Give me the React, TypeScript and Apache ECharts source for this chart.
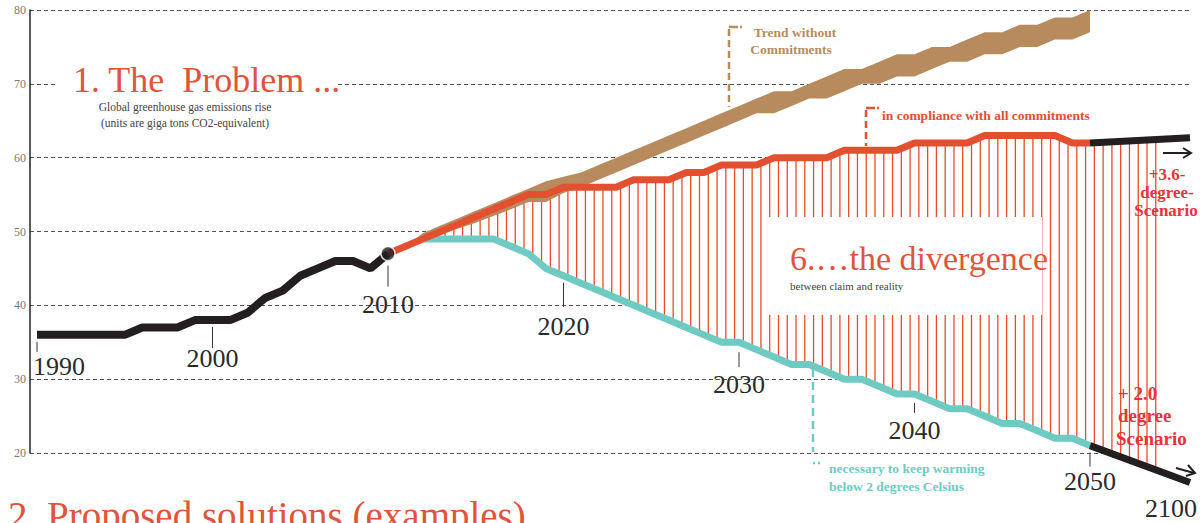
import React, { useEffect, useRef } from "react";
import * as echarts from "echarts";

const FONT = '"Liberation Serif", "Times New Roman", serif';

// ---------------- data (giga tons CO2-equivalent) ----------------
const historyYears = [1990, 1991, 1992, 1993, 1994, 1995, 1996, 1997, 1998, 1999, 2000, 2001, 2002, 2003, 2004, 2005, 2006, 2007, 2008, 2009, 2010];
const historyValues = [36, 36, 36, 36, 36, 36, 37, 37, 37, 38, 38, 38, 39, 41, 42, 44, 45, 46, 46, 45, 47];

const pledgeYears = [2010, 2011, 2012, 2013, 2014, 2015, 2016, 2017, 2018, 2019, 2020, 2021, 2022, 2023, 2024, 2025, 2026, 2027, 2028, 2029, 2030, 2031, 2032, 2033, 2034, 2035, 2036, 2037, 2038, 2039, 2040, 2041, 2042, 2043, 2044, 2045, 2046, 2047, 2048, 2049, 2050];
const pledgeValues = [47, 48, 49, 50, 51, 52, 53, 54, 55, 55, 56, 56, 56, 56, 57, 57, 57, 58, 58, 59, 59, 59, 60, 60, 60, 60, 61, 61, 61, 61, 62, 62, 62, 62, 63, 63, 63, 63, 63, 62, 62];

const targetYears = [2012, 2013, 2014, 2015, 2016, 2017, 2018, 2019, 2020, 2021, 2022, 2023, 2024, 2025, 2026, 2027, 2028, 2029, 2030, 2031, 2032, 2033, 2034, 2035, 2036, 2037, 2038, 2039, 2040, 2041, 2042, 2043, 2044, 2045, 2046, 2047, 2048, 2049, 2050];
const targetValues = [49, 49, 49, 49, 49, 48, 47, 45, 44, 43, 42, 41, 40, 39, 38, 37, 36, 35, 35, 34, 33, 32, 32, 31, 30, 30, 29, 28, 28, 27, 26, 26, 25, 24, 24, 23, 22, 22, 21];

const trendYears = [2011, 2012, 2013, 2014, 2015, 2016, 2017, 2018, 2019, 2020, 2021, 2022, 2023, 2024, 2025, 2026, 2027, 2028, 2029, 2030, 2031, 2032, 2033, 2034, 2035, 2036, 2037, 2038, 2039, 2040, 2041, 2042, 2043, 2044, 2045, 2046, 2047, 2048, 2049, 2050];
const trendUpper = [48, 49.8, 50.8, 51.8, 52.8, 53.8, 54.8, 55.8, 56.8, 57.4, 58, 59, 60, 61, 62, 63, 64, 65, 66, 67, 68, 69, 69, 70, 71, 72, 72, 73, 74, 74, 75, 75, 76, 77, 77, 78, 78, 79, 79, 80];
const trendLower = [48, 48.8, 49.6, 50.4, 51.2, 52.1, 53, 54, 54, 55.2, 56, 57, 58, 59, 60, 61, 62, 63, 64, 65, 66, 66, 67, 68, 68, 69, 70, 70, 71, 71, 72, 73, 73, 74, 74, 75, 75, 76, 76, 77];

const outlookYears = [2050, 2100];
const outlookHigh = [62, 62.7];
const outlookLow = [21, 16];

const yearLabels = ["1990", "2000", "2010", "2020", "2030", "2040", "2050", "2100"];

// ---------------- layout / style helpers ----------------
// axis break after 2050: the years 2050-2100 are compressed
const axisPos = (year: number) => (year <= 2050 ? year : 2050 + (year - 2050) * 0.114);
const pts = (xs: number[], ys: number[]) => xs.map((x, i) => [axisPos(x), ys[i]]);

const historyPts = pts(historyYears, historyValues);
const pledgePts = pts(pledgeYears, pledgeValues);
const targetPts = pts(targetYears, targetValues);
const highPts = pts(outlookYears, outlookHigh);
const lowPts = pts(outlookYears, outlookLow);
const trendUpPts = pts(trendYears, trendUpper);
const trendLowPts = pts(trendYears, trendLower);

const upperBound = pledgePts.filter((p) => p[0] >= targetYears[0]).concat([highPts[1]]);
const lowerBound = targetPts.concat([lowPts[1]]);

const interp = (line: number[][], x: number) => {
  if (x <= line[0][0]) return line[0][1];
  for (let i = 1; i < line.length; i++) {
    if (x <= line[i][0]) {
      const [x0, y0] = line[i - 1];
      const [x1, y1] = line[i];
      return y0 + ((y1 - y0) * (x - x0)) / (x1 - x0);
    }
  }
  return line[line.length - 1][1];
};

const hatchXs: number[] = [];
for (let x = 2012.25; x <= 2053.8; x += 0.5) hatchXs.push(x);

const anchorOf = (label: string) => {
  const y = Number(label);
  if (y <= 2010) return historyValues[historyYears.indexOf(y)];
  if (y <= 2050) return targetValues[targetYears.indexOf(y)];
  return outlookLow[1];
};
// pixel offsets below the curve: [tickStart, tickEnd, labelCenterDy, labelDx]
const yearMarkOffsets = [
  [7, 17, 32, 22],
  [7, 28, 38, 0],
  [12, 33, 51, 0],
  [7, 31, 51, 0],
  [10, 25, 42, 0],
  [9, 19, 37, 0],
  [7, 21, 36, 0],
  [0, 0, 26, -19],
];

const C_RED = "#E2502F";
const C_TEAL = "#6FCBC2";
const C_BROWN = "#B78B5E";
const C_BLACK = "#231F20";
const C_SCEN = "#E8333B";
const C_TITLE = "#E0553A";

export default function App() {
  const ref = useRef<HTMLDivElement>(null);

  useEffect(() => {
    if (!ref.current) return;
    const chart = echarts.init(ref.current, null, { renderer: "svg" });

    // (x, baseline) -> text element vertically centred on the cap height
    const txt = (text: string, x: number, baseline: number, size: number, weight: string, fill: string, align = "left") => ({
      type: "text",
      x,
      y: baseline - 0.34 * size,
      z: 51,
      silent: true,
      style: { text, font: `${weight} ${size}px ${FONT}`, fill, align, verticalAlign: "middle" },
    });
    const dashLine = (x1: number, y1: number, x2: number, y2: number, stroke: string, dash: number[]) => ({
      type: "line",
      z: 50,
      silent: true,
      shape: { x1, y1, x2, y2 },
      style: { stroke, lineWidth: 2.5, lineDash: dash },
    });

    const option: any = {
      animation: false,
      grid: { left: 30, right: 10, top: 10, bottom: 70, containLabel: false, outerBoundsMode: "none" },
      xAxis: { type: "value", min: 1989.6, max: 2055.7, show: false },
      yAxis: {
        type: "value",
        min: 20,
        max: 80,
        interval: 10,
        axisLine: { show: true, lineStyle: { color: "#222", width: 1.5 } },
        axisTick: { show: false },
        axisLabel: { color: "#7a7a7a", fontFamily: FONT, fontSize: 12, margin: 4 },
        splitLine: { lineStyle: { type: [4, 3], color: "#555", width: 1 } },
      },
      series: [
        {
          name: "gapFill",
          type: "custom",
          z: 1,
          silent: true,
          clip: false,
          data: [[targetYears[0], targetValues[0]]],
          renderItem: (params: any, api: any) => {
            const points = upperBound.map((p) => api.coord(p)).concat(lowerBound.slice().reverse().map((p) => api.coord(p)));
            return { type: "polygon", shape: { points }, style: { fill: "#fff" } };
          },
        },
        {
          name: "divergence",
          type: "custom",
          z: 2,
          silent: true,
          clip: false,
          data: hatchXs.map((x) => [x, interp(upperBound, x)]),
          renderItem: (params: any, api: any) => {
            const x = api.value(0);
            const a = api.coord([x, interp(upperBound, x)]);
            const b = api.coord([x, interp(lowerBound, x)]);
            return { type: "line", shape: { x1: a[0], y1: a[1], x2: b[0], y2: b[1] }, style: { stroke: "#E64C2C", lineWidth: 1.3 } };
          },
        },
        {
          name: "Trend without Commitments",
          type: "custom",
          z: 3,
          silent: true,
          clip: false,
          data: [[trendYears[0], trendUpper[0]]],
          renderItem: (params: any, api: any) => {
            const points = trendUpPts.map((p) => api.coord(p)).concat(trendLowPts.slice().reverse().map((p) => api.coord(p)));
            return { type: "polygon", shape: { points }, style: { fill: C_BROWN } };
          },
        },
        {
          name: "2-degree path",
          type: "line",
          z: 4,
          silent: true,
          clip: false,
          symbol: "none",
          data: targetPts,
          lineStyle: { color: C_TEAL, width: 7 },
        },
        {
          name: "Commitments",
          type: "line",
          z: 5,
          silent: true,
          clip: false,
          symbol: "none",
          data: pledgePts,
          lineStyle: { color: C_RED, width: 7 },
        },
        {
          name: "History",
          type: "line",
          z: 6,
          silent: true,
          clip: false,
          symbol: "none",
          data: historyPts,
          lineStyle: { color: C_BLACK, width: 8 },
        },
        {
          name: "3.6 outlook",
          type: "line",
          z: 6,
          silent: true,
          clip: false,
          symbol: "none",
          data: highPts,
          lineStyle: { color: C_BLACK, width: 7 },
        },
        {
          name: "2.0 outlook",
          type: "line",
          z: 6,
          silent: true,
          clip: false,
          symbol: "none",
          data: lowPts,
          lineStyle: { color: C_BLACK, width: 7 },
        },
        {
          name: "2010",
          type: "scatter",
          z: 7,
          silent: true,
          clip: false,
          symbolSize: 14,
          data: [historyPts[historyPts.length - 1]],
          itemStyle: { color: C_BLACK, borderColor: "#fff", borderWidth: 1.5 },
        },
        {
          name: "years",
          type: "custom",
          z: 8,
          silent: true,
          clip: false,
          data: yearLabels.map((l, i) => [axisPos(Number(l)), anchorOf(l), i]),
          renderItem: (params: any, api: any) => {
            const i = api.value(2);
            const p = api.coord([api.value(0), api.value(1)]);
            const [t0, t1, dy, dx] = yearMarkOffsets[i];
            const children: any[] = [];
            if (t1 > t0) {
              children.push({ type: "line", shape: { x1: p[0], y1: p[1] + t0, x2: p[0], y2: p[1] + t1 }, style: { stroke: "#333", lineWidth: 1 } });
            }
            children.push({
              type: "text",
              style: { text: yearLabels[i], x: p[0] + dx, y: p[1] + dy, align: "center", verticalAlign: "middle", font: `26px ${FONT}`, fill: "#2b2b2b" },
            });
            return { type: "group", children };
          },
        },
      ],
      graphic: [
        // title
        { type: "rect", z: 50, silent: true, shape: { x: 56, y: 60, width: 282, height: 36 }, style: { fill: "#fff" } },
        txt("1. The  Problem ...", 73, 92, 36, "normal", C_TITLE),
        txt("Global greenhouse gas emissions rise", 185, 111, 11.5, "normal", "#444", "center"),
        txt("(units are giga tons CO2-equivalent)", 185, 127, 11.5, "normal", "#444", "center"),
        // divergence label
        { type: "rect", z: 50, silent: true, shape: { x: 768, y: 217, width: 274, height: 98 }, style: { fill: "#fff" } },
        txt("6.\u2026the divergence", 790, 270, 34, "normal", C_TITLE),
        txt("between claim and reality", 790, 290, 11, "normal", "#444"),
        // trend annotation
        dashLine(729, 29, 729, 107, C_BROWN, [7, 4]),
        dashLine(729, 27, 742, 27, C_BROWN, [9, 2]),
        txt("Trend without", 795, 37, 13.5, "bold", C_BROWN, "center"),
        txt("Commitments", 791, 54, 13.5, "bold", C_BROWN, "center"),
        // compliance annotation
        dashLine(866, 110, 866, 146, C_RED, [7, 4]),
        dashLine(866, 108, 879, 108, C_RED, [9, 2]),
        txt("in compliance with all commitments", 882, 120, 13.5, "bold", C_RED),
        // 2 degree annotation
        dashLine(813, 369, 813, 452, C_TEAL, [8, 5]),
        dashLine(813, 463, 822, 463, C_TEAL, [2, 3]),
        txt("necessary to keep warming", 829, 473, 13.5, "bold", C_TEAL),
        txt("below 2 degrees Celsius", 829, 491, 13.5, "bold", C_TEAL),
        // scenarios
        txt("+3.6-", 1167, 180, 17, "bold", C_SCEN, "center"),
        txt("degree-", 1167, 198, 17, "bold", C_SCEN, "center"),
        txt("Scenario", 1166, 216, 17, "bold", C_SCEN, "center"),
        txt("+ 2.0", 1118, 400, 19, "bold", C_SCEN),
        txt("degree", 1118, 422, 19, "bold", C_SCEN),
        txt("Scenario", 1116, 445, 19, "bold", C_SCEN),
        // arrows
        { type: "line", z: 50, silent: true, shape: { x1: 1163, y1: 153, x2: 1190, y2: 153 }, style: { stroke: C_BLACK, lineWidth: 2 } },
        { type: "polyline", z: 50, silent: true, shape: { points: [[1183, 148], [1191, 153], [1183, 158]] }, style: { stroke: C_BLACK, lineWidth: 2, fill: null } },
        { type: "line", z: 50, silent: true, shape: { x1: 1176, y1: 468, x2: 1194, y2: 473 }, style: { stroke: C_BLACK, lineWidth: 2 } },
        { type: "polyline", z: 50, silent: true, shape: { points: [[1188, 465], [1195, 473], [1186, 476]] }, style: { stroke: C_BLACK, lineWidth: 2, fill: null } },
        // next section heading (cut by the picture's bottom edge, as in the original)
        txt("2. Proposed solutions (examples)", 8, 529, 39, "normal", C_TITLE),
      ],
    };

    chart.setOption(option);
    return () => chart.dispose();
  }, []);

  return <div ref={ref} style={{ position: "fixed", left: 0, top: 0, width: 1200, height: 523, background: "#fff" }} />;
}
